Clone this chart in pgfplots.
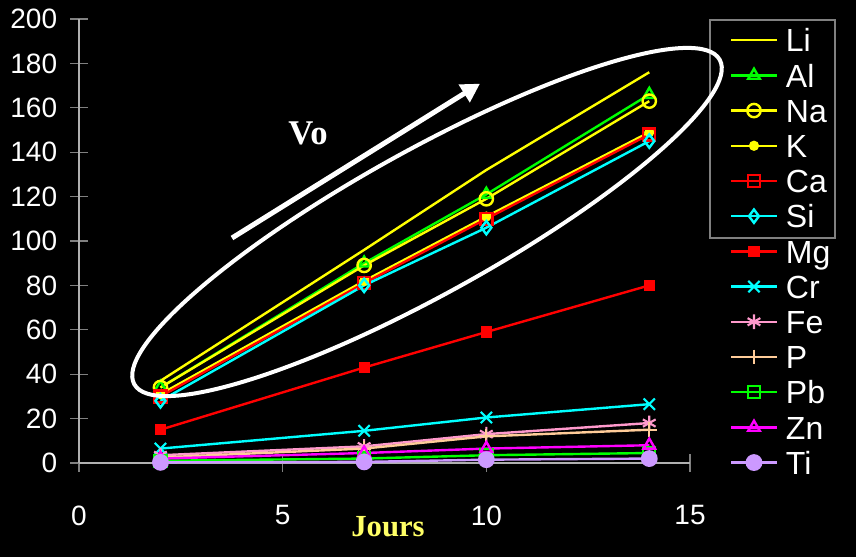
\documentclass[border=0pt]{standalone}
\usepackage{fontspec}
\setmainfont{Liberation Sans}
\newfontfamily\serifb{Liberation Serif}[BoldFont={Liberation Serif Bold}]
\usepackage{pgfplots}
\pgfplotsset{compat=1.18}
\usetikzlibrary{arrows.meta}

\definecolor{cLi}{HTML}{FFFF00}
\definecolor{cAl}{HTML}{00FF00}
\definecolor{cRed}{HTML}{FF0000}
\definecolor{cCyan}{HTML}{00FFFF}
\definecolor{cFe}{HTML}{FF99CC}
\definecolor{cP}{HTML}{FFCC99}
\definecolor{cZn}{HTML}{FF00FF}
\definecolor{cTi}{HTML}{CC99FF}
\definecolor{axgray}{HTML}{B0B0B0}
\definecolor{jours}{HTML}{FFFF66}

\pgfplotsset{ser/.style={line width=1.8pt, mark options={solid, line width=1.6pt}}}

\begin{document}
\begin{tikzpicture}
% background, 856 x 557 px at 0.75pt per px
\fill[black] (0,0) rectangle (642pt,417.75pt);

\begin{axis}[
    at={(59.25pt,70.5pt)}, anchor=south west,
    scale only axis, width=458.25pt, height=333pt,
    xmin=0, xmax=15, ymin=0, ymax=200,
    xtick={0,5,10,15},
    ytick={0,20,...,200},
    axis x line=bottom, axis y line=left,
    axis line style={-, draw=axgray, line width=0.9pt},
    tick align=center, major tick length=12.75pt,
    tick style={draw=gray, line width=1pt},
    /pgf/number format/assume math mode=true,
    tick label style={text=white, font=\fontsize{21}{21}\selectfont},
    xticklabel style={yshift=-22pt},
    yticklabel style={xshift=-6.5pt},
    clip=false,
    legend cell align=left,
    legend image code/.code={
      \draw[mark repeat=2,mark phase=2] plot coordinates {(0cm,0cm)(0.6cm,0cm)(1.2cm,0cm)};
    },
    legend style={at={(1.0655,0.9786)}, anchor=north west,
      draw=none, fill=none, text=white, inner sep=0pt, outer sep=0pt,
      font=\fontsize{24}{24}\selectfont,
      nodes={inner sep=0pt, text height=17.5pt, text depth=0pt},
      row sep=8.9pt, column sep=6pt},
]
\addplot[cLi, ser, mark=none] coordinates {(2,37)(7,96)(10,132)(14,176)};
\addlegendentry{Li}
\addplot[cAl, ser, mark=triangle, mark size=5pt, mark options={fill=black}] coordinates {(2,34)(7,90)(10,121)(14,166)};
\addlegendentry{Al}
\addplot[cLi, ser, mark=o, mark size=5pt, mark options={fill=black}] coordinates {(2,34)(7,89)(10,119)(14,163)};
\addlegendentry{Na}
\addplot[cLi, ser, mark=*, mark size=3pt] coordinates {(2,31)(7,82)(10,111)(14,149)};
\addlegendentry{K}
\addplot[cRed, ser, mark=square, mark size=4.5pt, mark options={fill=black}] coordinates {(2,30)(7,81)(10,110)(14,148)};
\addlegendentry{Ca}
\addplot[cCyan, ser, mark=diamond, mark size=5pt, mark options={fill=black}] coordinates {(2,28)(7,80)(10,106)(14,145)};
\addlegendentry{Si}
\addplot[cRed, ser, mark=square*, mark size=3.4pt] coordinates {(2,15)(7,43)(10,59)(14,80)};
\addlegendentry{Mg}
\addplot[cCyan, ser, mark=x, mark size=6pt] coordinates {(2,6.5)(7,14.5)(10,20.5)(14,26.5)};
\addlegendentry{Cr}
\addplot[cFe, ser, mark=asterisk, mark size=5.5pt] coordinates {(2,3.5)(7,7.5)(10,13)(14,18)};
\addlegendentry{Fe}
\addplot[cP, ser, mark=+, mark size=5.5pt] coordinates {(2,2.5)(7,6.5)(10,12)(14,15)};
\addlegendentry{P}
\addplot[cAl, ser, mark=square, mark size=4.5pt, mark options={fill=black}] coordinates {(2,1)(7,2)(10,3.5)(14,4.5)};
\addlegendentry{Pb}
\addplot[cZn, ser, mark=triangle, mark size=5pt, mark options={fill=black}] coordinates {(2,2)(7,4.5)(10,6.5)(14,8)};
\addlegendentry{Zn}
\addplot[cTi, ser, mark=*, mark size=5.5pt] coordinates {(2,0.3)(7,0.5)(10,1.5)(14,2)};
\addlegendentry{Ti}
\end{axis}

% partial legend frame (around the first six entries only)
\draw[gray, line width=1.1pt] (532.5pt,402.75pt) rectangle (626.25pt,239.25pt);

% annotations
\draw[white, line width=3pt, rotate around={29:(320.25pt,251.25pt)}]
  (320.25pt,251.25pt) ellipse [x radius=251pt, y radius=54pt];
\draw[white, line width=3.75pt, -{Triangle[length=14pt,width=15pt]}]
  (174pt,239.25pt) -- (360pt,355pt);
\node[text=white, font=\serifb\bfseries\fontsize{26}{26}\selectfont] at (231pt,318pt) {Vo};
\node[text=jours, font=\serifb\bfseries\fontsize{23}{23}\selectfont] at (291pt,22.5pt) {Jours};

\pgfresetboundingbox
\useasboundingbox (0,0) rectangle (642pt,417.75pt);
\end{tikzpicture}
\end{document}
